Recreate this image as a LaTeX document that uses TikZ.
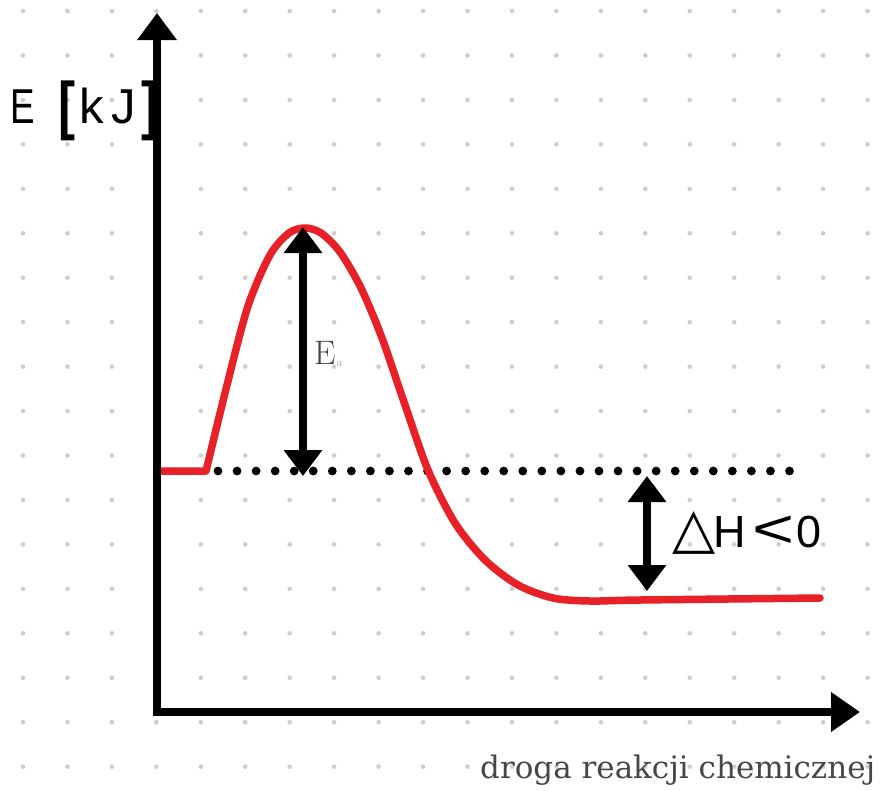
\documentclass[tikz,border=0pt]{standalone}
\usepackage{fontspec}
\setmainfont{Liberation Sans}
\newfontfamily\symfont{DejaVu Sans}
\newfontfamily\slabfont{DejaVu Serif}
\newfontfamily\lmserif{Latin Modern Roman}
\usetikzlibrary{arrows.meta}
\definecolor{curvered}{RGB}{232,32,40}
\definecolor{griddot}{RGB}{205,205,205}
\definecolor{labelgray}{RGB}{70,70,70}
\tikzset{
  axisline/.style={line width=8pt, black},
  redcurve/.style={line width=7.5pt, curvered, line cap=round, line join=round},
  dblarrow/.style={line width=8pt, black, {Triangle[width=37pt,length=26pt]}-{Triangle[width=37pt,length=26pt]}},
}
\begin{document}
\begin{tikzpicture}[x=1pt,y=-1pt]
\useasboundingbox (0,0) rectangle (880,790);
\fill[white] (0,0) rectangle (880,790);
% dot grid
\foreach \i in {0,...,19}{
  \foreach \j in {0,...,17}{
    \fill[griddot] (23+44.45*\i, 11+44.45*\j) circle (2.3pt);
  }
}
% dotted reference line
\foreach \k in {0,...,30}{
  \fill[black] (218+19.05*\k, 471) circle (4.4pt);
}
% red energy curve
\draw[redcurve] (160,471) -- (206,471)
  plot[smooth, tension=0.5] coordinates {(206,471) (227,385) (248,306) (270,255) (289,233) (305,228) (321,233) (340,252) (361,288) (382,338) (404,402) (428,470) (455,523) (485,560) (518,585) (553,598) (590,601) (640,600) (820,598)};
% axes
\coordinate (ytip) at (157,13);
\coordinate (O) at (157,712);
\coordinate (xtip) at (860,712);
\draw[axisline, {Triangle[width=38pt,length=27pt]}-{Triangle[width=38pt,length=29pt]}] (ytip) -- (O) -- (xtip);
% Ea arrow
\coordinate (eatop) at (303,227);
\coordinate (eabot) at (303,476);
\draw[dblarrow] (eatop) -- (eabot);
% Delta H arrow
\coordinate (dhtop) at (647,476);
\coordinate (dhbot) at (647,591);
\draw[dblarrow] (dhtop) -- (dhbot);
% labels
\node[inner sep=0pt, anchor=base west] (ylabel) at (10,123) {\fontsize{49}{49}\selectfont \scalebox{0.75}[1]{E}\hspace{24pt}\raisebox{-4pt}{\resizebox*{17pt}{60pt}{\textbf{[}}}\hspace{4pt}k\hspace{7pt}J\hspace{6pt}\raisebox{-4pt}{\resizebox*{17pt}{60pt}{\textbf{]}}}};
\node[inner sep=0pt, anchor=base west, text=labelgray] (ealabel) at (314,364) {\lmserif\fontsize{34}{34}\selectfont E\hspace{1pt}\raisebox{-2pt}{\textcolor{gray!70}{\fontsize{12}{12}\selectfont a}}};
\node[inner sep=0pt, anchor=base west] (dhlabel) at (672,547) {{\symfont\fontsize{56}{56}\selectfont △}\hspace{-2pt}\fontsize{45}{45}\selectfont H\hspace{7pt}\scalebox{1.6}[1.2]{<}\hspace{2pt}0};
\node[inner sep=0pt, anchor=base west, text=labelgray] (xlabel) at (480,778) {\resizebox{395pt}{!}{\slabfont droga reakcji chemicznej}};
\end{tikzpicture}
\end{document}
